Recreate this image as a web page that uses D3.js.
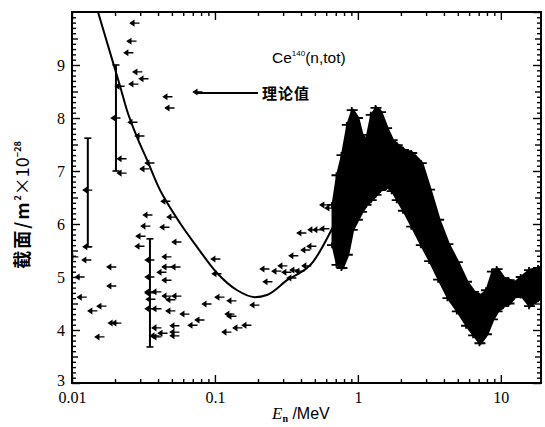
<!DOCTYPE html>
<html>
<head>
<meta charset="utf-8">
<script src="https://cdn.jsdelivr.net/npm/d3@7"></script>
<style>
body { margin: 0; background: #fff; }
</style>
</head>
<body>
<div id="chart"></div>
<script>
// theoretical curve (理论值)
const curveE = [0.0152, 0.0194, 0.0217, 0.0242, 0.0285, 0.0335, 0.0413, 0.0447, 0.0569, 0.0748, 0.103, 0.143, 0.19, 0.231, 0.319, 0.484, 0.668];
const curveS = [10.0, 9.04, 8.6, 8.15, 7.64, 7.21, 6.64, 6.47, 6.02, 5.57, 5.08, 4.75, 4.62, 4.66, 4.94, 5.28, 5.94];

// scattered measurements below 0.7 MeV
const scatterE = [0.0276, 0.0263, 0.0250, 0.0289, 0.0319, 0.0271, 0.0217, 0.0469, 0.0485, 0.0761, 0.0267, 0.0299, 0.0224, 0.0351, 0.0324, 0.0224, 0.0454, 0.0340, 0.0500,
  0.0103, 0.0127, 0.0114, 0.0118, 0.0140, 0.0162, 0.0190, 0.0190, 0.0157, 0.0194, 0.0206, 0.0129,
  0.0329, 0.0304, 0.0299, 0.0447, 0.0542, 0.0462, 0.0534, 0.0462, 0.0426, 0.0462, 0.0393, 0.0462, 0.0542, 0.0357, 0.0492, 0.0393, 0.0492, 0.0351, 0.0617, 0.0880, 0.0786, 0.0702, 0.0393, 0.0433, 0.0525, 0.0525, 0.0525, 0.0393, 0.0381, 0.0351, 0.0351, 0.0351,
  0.1016, 0.1033, 0.1084, 0.1315, 0.1273, 0.1315, 0.1674, 0.1449, 0.1213, 0.1905, 0.2238, 0.2715, 0.2990, 0.3187, 0.3622, 0.2349, 0.3453, 0.3927, 0.4395, 0.3565, 0.4325, 0.4766, 0.4055, 0.4842, 0.5248, 0.5875, 0.5875, 0.6370];
const scatterS = [9.79, 9.45, 9.23, 8.87, 8.74, 8.64, 8.60, 8.40, 8.19, 8.49, 7.92, 7.66, 7.23, 7.15, 7.04, 6.96, 6.43, 6.17, 6.13,
  5.38, 5.32, 5.00, 4.62, 4.36, 4.45, 5.19, 4.83, 3.87, 4.13, 4.13, 5.57,
  5.96, 5.77, 5.58, 5.94, 5.66, 5.38, 5.19, 5.19, 5.09, 4.94, 4.72, 4.64, 4.64, 4.58, 4.57, 4.40, 4.36, 4.40, 4.30, 4.49, 4.19, 4.09, 4.04, 3.94, 4.08, 3.96, 3.89, 3.87, 3.89, 5.32, 5.00, 4.72,
  5.34, 5.06, 4.62, 4.55, 4.30, 4.26, 4.09, 4.04, 3.96, 4.47, 5.15, 5.11, 5.21, 5.09, 5.13, 4.91, 4.98, 5.11, 5.21, 5.40, 5.51, 5.58, 5.83, 5.89, 5.89, 5.91, 6.36, 6.30];

// points with vertical error bars
const barE = [0.0129, 0.0203, 0.0351];
const barS = [6.64, 8.0, 4.7];
const barLo = [5.57, 7.0, 3.68];
const barHi = [7.62, 9.0, 5.72];

// dense resonance region, upper and lower envelope
const bandE = [0.67, 0.72, 0.78, 0.85, 0.92, 1.0, 1.07, 1.15, 1.25, 1.35, 1.45, 1.6, 1.75, 1.9, 2.1, 2.4, 2.8, 3.2, 3.7, 4.3, 5.0, 5.8, 6.5, 7.2, 8.0, 8.8, 9.5, 10.5, 11.5, 12.5, 14, 16, 18.5];
const bandHi = [6.36, 6.92, 7.30, 7.87, 8.15, 8.00, 7.68, 7.58, 8.06, 8.19, 8.11, 7.81, 7.58, 7.49, 7.40, 7.34, 7.15, 6.65, 6.08, 5.62, 5.28, 4.91, 4.72, 4.64, 4.75, 5.10, 5.15, 4.98, 4.94, 4.89, 5.00, 5.13, 5.17];
const bandLo = [5.60, 5.23, 5.17, 5.42, 5.89, 6.08, 6.23, 6.36, 6.45, 6.55, 6.64, 6.70, 6.62, 6.45, 6.25, 5.95, 5.60, 5.30, 4.95, 4.60, 4.35, 4.08, 3.90, 3.75, 3.92, 4.20, 4.35, 4.45, 4.50, 4.62, 4.65, 4.45, 4.58];

const xTicks = [0.01, 0.1, 1, 10];
const xTickLabels = ["0.01", "0.1", "1", "10"];
const yTicks = [3, 4, 5, 6, 7, 8, 9];

const width = 545, height = 427;
const x = d3.scaleLog().domain([0.01, 19.1]).range([72, 541]);
const y = d3.scaleLinear().domain([3, 10]).range([383, 12]);

const svg = d3.select("#chart").append("svg")
    .attr("width", width)
    .attr("height", height)
    .style("font-family", "'Liberation Serif', serif");

svg.append("defs").append("clipPath").attr("id", "clip")
  .append("rect")
    .attr("x", x.range()[0]).attr("y", y.range()[1])
    .attr("width", x.range()[1] - x.range()[0])
    .attr("height", y.range()[0] - y.range()[1]);

// minor tick positions
const xMinor = [];
[0.01, 0.1, 1, 10].forEach(function(dec) {
  for (let k = 2; k <= 9; k++) if (dec * k <= 19.1) xMinor.push(dec * k);
});
const yMinor = d3.range(30, 100).filter(v => v % 5 !== 0).map(v => v / 10);
const yHalf = [3.5, 4.5, 5.5, 6.5, 7.5, 8.5, 9.5];

function styleAxis(g) {
  g.select(".domain").remove();
  g.selectAll(".tick line").attr("stroke", "#000").attr("stroke-width", 1.4);
}

// left
svg.append("g").attr("transform", "translate(72,0)")
    .call(d3.axisLeft(y).tickValues(yTicks).tickSize(-8).tickPadding(7).tickFormat(d3.format("d")))
    .call(styleAxis)
    .call(g => g.selectAll("text").attr("font-size", 16).attr("font-family", "'Liberation Serif', serif").attr("fill", "#000"))
    .call(g => g.selectAll(".tick text").filter(d => d === 3).attr("y", -3));
svg.append("g").attr("transform", "translate(72,0)")
    .call(d3.axisLeft(y).tickValues(yHalf).tickSize(-6).tickFormat(""))
    .call(styleAxis);
svg.append("g").attr("transform", "translate(72,0)")
    .call(d3.axisLeft(y).tickValues(yMinor).tickSize(-4).tickFormat(""))
    .call(styleAxis);

// right
[[yTicks.concat([10]), -8], [yHalf, -6], [yMinor, -4]].forEach(function(p) {
  svg.append("g").attr("transform", "translate(541,0)")
      .call(d3.axisRight(y).tickValues(p[0]).tickSize(p[1]).tickFormat(""))
      .call(styleAxis);
});

// bottom
svg.append("g").attr("transform", "translate(0,383)")
    .call(d3.axisBottom(x).tickValues(xTicks).tickSize(-8).tickPadding(9).tickFormat((d, i) => xTickLabels[i]))
    .call(styleAxis)
    .call(g => g.selectAll("text").attr("font-size", 16).attr("font-family", "'Liberation Serif', serif").attr("fill", "#000"));
svg.append("g").attr("transform", "translate(0,383)")
    .call(d3.axisBottom(x).tickValues(xMinor).tickSize(-4).tickFormat(""))
    .call(styleAxis);

// top
svg.append("g").attr("transform", "translate(0,12)")
    .call(d3.axisTop(x).tickValues(xTicks).tickSize(-8).tickFormat(""))
    .call(styleAxis);
svg.append("g").attr("transform", "translate(0,12)")
    .call(d3.axisTop(x).tickValues(xMinor).tickSize(-4).tickFormat(""))
    .call(styleAxis);

// frame
svg.append("rect")
    .attr("x", 72).attr("y", 12)
    .attr("width", 541 - 72).attr("height", 383 - 12)
    .attr("fill", "none").attr("stroke", "#000").attr("stroke-width", 2);

const plot = svg.append("g").attr("clip-path", "url(#clip)");

// theoretical curve
plot.append("path")
    .datum(d3.zip(curveE, curveS))
    .attr("fill", "none")
    .attr("stroke", "#000")
    .attr("stroke-width", 2)
    .attr("d", d3.line().x(d => x(d[0])).y(d => y(d[1])).curve(d3.curveMonotoneX));

// dense band
const band = d3.zip(bandE, bandLo, bandHi);
plot.append("path")
    .datum(band)
    .attr("fill", "#000")
    .attr("stroke", "#000")
    .attr("stroke-width", 3)
    .attr("stroke-linejoin", "round")
    .attr("d", d3.area().x(d => x(d[0])).y0(d => y(d[1])).y1(d => y(d[2])).curve(d3.curveLinear));

const fuzz = "M-6,0H5M-1,-3V3";
plot.selectAll("path.fz")
  .data(band.map(d => [d[0], d[1]]).concat(band.map(d => [d[0], d[2]])))
  .join("path")
    .attr("class", "fz")
    .attr("d", fuzz)
    .attr("stroke", "#000")
    .attr("stroke-width", 1.8)
    .attr("transform", d => `translate(${x(d[0])},${y(d[1])})`);

// error bars
const bars = d3.zip(barE, barS, barLo, barHi);
const eb = plot.selectAll("g.eb").data(bars).join("g").attr("class", "eb");
eb.append("line")
    .attr("x1", d => x(d[0])).attr("x2", d => x(d[0]))
    .attr("y1", d => y(d[2])).attr("y2", d => y(d[3]))
    .attr("stroke", "#000").attr("stroke-width", 2);
eb.selectAll("line.cap").data(d => [[d[0], d[2]], [d[0], d[3]]]).join("line")
    .attr("class", "cap")
    .attr("x1", d => x(d[0]) - 3.5).attr("x2", d => x(d[0]) + 3.5)
    .attr("y1", d => y(d[1])).attr("y2", d => y(d[1]))
    .attr("stroke", "#000").attr("stroke-width", 1.6);

// scatter markers
const arrow = "M-4.5,0L-1.2,-2.2L-1.2,2.2Z M-1.2,0H4.5";
plot.selectAll("path.pt")
  .data(d3.zip(scatterE, scatterS).concat(bars.map(d => [d[0], d[1]])))
  .join("path")
    .attr("class", "pt")
    .attr("d", arrow)
    .attr("fill", "#000")
    .attr("stroke", "#000")
    .attr("stroke-width", 1.4)
    .attr("transform", d => `translate(${x(d[0])},${y(d[1])})`);

// legend
const leg = svg.append("g").style("font-family", "'Liberation Sans', Arial, sans-serif");
const title = leg.append("text").attr("x", 272).attr("y", 63).attr("font-size", 15.5).attr("fill", "#000");
title.append("tspan").text("Ce");
title.append("tspan").attr("font-size", 8).attr("dy", -7).text("140");
title.append("tspan").attr("dy", 7).text("(n,tot)");

leg.append("line")
    .attr("x1", 196).attr("x2", 258).attr("y1", 93).attr("y2", 93)
    .attr("stroke", "#000").attr("stroke-width", 2);
leg.append("text")
    .attr("x", 262).attr("y", 99)
    .attr("font-family", "'Noto Sans CJK SC', sans-serif")
    .attr("font-size", 15).attr("font-weight", "bold")
    .attr("letter-spacing", 1)
    .text("理论值");

// axis titles
const xt = svg.append("text")
    .attr("x", 272).attr("y", 419)
    .attr("font-size", 17).attr("fill", "#000");
xt.append("tspan").attr("font-style", "italic").attr("font-family", "'Liberation Serif', serif").text("E");
xt.append("tspan").attr("font-size", 10).attr("dy", 3).attr("font-weight", "bold").text("n");
xt.append("tspan").attr("dy", -3).attr("font-family", "'Liberation Sans', Arial, sans-serif").attr("font-size", 16).text(" /MeV");

const yt = svg.append("text")
    .attr("transform", "translate(29,205) rotate(-90)")
    .attr("text-anchor", "middle")
    .attr("font-family", "'Noto Sans CJK SC', sans-serif")
    .attr("font-size", 18).attr("font-weight", "bold").attr("fill", "#000");
yt.append("tspan").attr("letter-spacing", 2).text("截面/m");
yt.append("tspan").attr("font-size", 9).attr("dy", -8).text("2");
yt.append("tspan").attr("dy", 8).attr("font-weight", "normal").text("×10");
yt.append("tspan").attr("font-size", 9).attr("dy", -8).text("−28");
</script>
</body>
</html>
